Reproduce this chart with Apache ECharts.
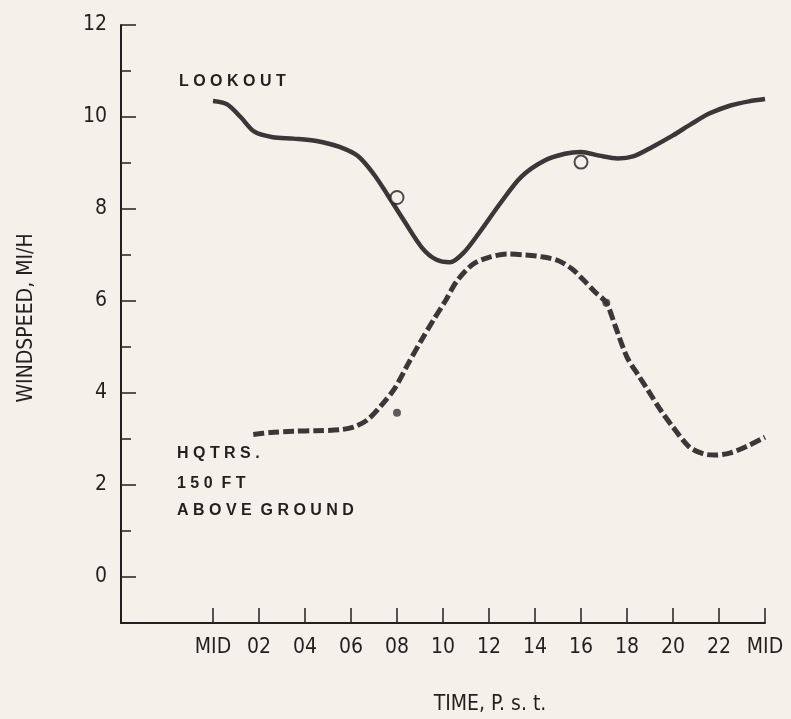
<!DOCTYPE html>
<html>
<head>
<meta charset="utf-8">
<script src="https://cdn.jsdelivr.net/npm/echarts@6/dist/echarts.min.js"></script>
<style>
html,body{margin:0;padding:0;background:#f4f1eb;}
#chart{width:791px;height:719px;}
</style>
</head>
<body>
<div id="chart"></div>
<script>
// Hours past midnight (P.s.t.) and windspeed (mi/h)
const lookoutHours = [0,0.6,1.2,1.8,2.6,3.5,4.5,5.5,6.3,7.0,7.6,8.3,9.1,9.7,10.3,10.9,11.6,12.5,13.4,14.4,15.3,16.0,16.8,17.6,18.3,19.1,20.0,20.8,21.6,22.5,23.3,24];
const lookoutSpeed = [10.35,10.28,10.0,9.68,9.56,9.53,9.48,9.35,9.15,8.75,8.3,7.75,7.15,6.9,6.84,7.05,7.5,8.13,8.7,9.05,9.2,9.24,9.16,9.1,9.15,9.35,9.6,9.85,10.08,10.25,10.34,10.39];
const hqtrsHours = [1.75,2.5,3.5,4.5,5.5,6.1,6.7,7.3,7.9,8.5,9.1,9.6,10.1,10.6,11.3,12.0,12.8,13.6,14.3,15.0,15.6,16.1,16.6,17.1,17.5,18.0,18.5,18.9,19.5,20.0,20.7,21.3,21.8,22.5,23.2,24];
const hqtrsSpeed = [3.1,3.14,3.17,3.18,3.2,3.26,3.41,3.72,4.1,4.65,5.18,5.6,6.0,6.43,6.8,6.95,7.02,7.0,6.96,6.88,6.7,6.46,6.2,5.96,5.44,4.78,4.38,4.07,3.6,3.26,2.83,2.68,2.65,2.7,2.84,3.04];
const lookoutObsHours = [8,16];
const lookoutObsSpeed = [8.25,9.02];
const hqtrsObsHours = [8,17.1];
const hqtrsObsSpeed = [3.57,5.96];
const xTickValues = [0,2,4,6,8,10,12,14,16,18,20,22,24];
const xTickLabels = ['MID','02','04','06','08','10','12','14','16','18','20','22','MID'];
const yMajorTicks = [0,2,4,6,8,10,12];
const yMinorTicks = [1,3,5,7,9,11];

const ink = '#231f20';
const lineInk = '#3b3637';
const bg = '#f4f1eb';
const narrow = '"Liberation Sans Narrow","DejaVu Sans Condensed",sans-serif';
const bold = '"Liberation Sans",Arial,sans-serif';

const zip = (a,b) => a.map((v,i) => [v,b[i]]);

const chart = echarts.init(document.getElementById('chart'), null, {renderer:'canvas'});
chart.setOption({
  backgroundColor: bg,
  animation: false,
  grid: {left:121, right:26, top:25, bottom:96, containLabel:false},
  xAxis: {
    type:'value', min:-4, max:24,
    splitLine:{show:false},
    axisLine:{show:true, onZero:false, lineStyle:{color:ink, width:2}},
    axisTick:{show:true, inside:true, length:15, customValues:xTickValues, lineStyle:{color:ink, width:1.5}},
    axisLabel:{show:true, customValues:xTickValues, margin:14, color:ink, fontFamily:narrow, fontSize:21,
      formatter:(v)=>{const i = xTickValues.indexOf(v); return i>=0 ? xTickLabels[i] : '';}}
  },
  yAxis: [{
    type:'value', min:-1, max:12,
    splitLine:{show:false},
    axisLine:{show:true, onZero:false, lineStyle:{color:ink, width:2}},
    axisTick:{show:true, inside:true, length:15, customValues:yMajorTicks, lineStyle:{color:ink, width:1.5}},
    axisLabel:{show:true, customValues:yMajorTicks, margin:14, color:ink, fontFamily:narrow, fontSize:21}
  },{
    type:'value', min:-1, max:12, position:'left',
    splitLine:{show:false},
    axisLine:{show:false, onZero:false},
    axisTick:{show:true, inside:true, length:10, customValues:yMinorTicks, lineStyle:{color:ink, width:1.5}},
    axisLabel:{show:false}
  }],
  series: [
    {type:'line', data:zip(lookoutHours, lookoutSpeed), smooth:0.3, symbol:'none',
      lineStyle:{color:lineInk, width:4.5, cap:'butt'}},
    {type:'line', data:zip(hqtrsHours, hqtrsSpeed), smooth:0.3, symbol:'none',
      lineStyle:{color:lineInk, width:5, type:[11,4], cap:'butt'}},
    {type:'scatter', data:zip(lookoutObsHours, lookoutObsSpeed), symbol:'circle', symbolSize:13,
      itemStyle:{color:bg, borderColor:ink, borderWidth:2}, z:5},
    {type:'scatter', data:zip(hqtrsObsHours, hqtrsObsSpeed), symbol:'circle', symbolSize:8,
      itemStyle:{color:lineInk}, z:5}
  ],
  graphic: [
    {type:'text', left:179, top:74, style:{text:'L O O K O U T', fill:ink, font:'bold 16px '+bold}},
    {type:'text', left:177, top:446, style:{text:'H Q T R S .', fill:ink, font:'bold 16px '+bold}},
    {type:'text', left:177, top:476, style:{text:'1 5 0  F T', fill:ink, font:'bold 16px '+bold}},
    {type:'text', left:177, top:503, style:{text:'A B O V E  G R O U N D', fill:ink, font:'bold 16px '+bold}},
    {type:'text', x:490, y:705, style:{text:'TIME, P. s. t.', fill:ink, font:'21px '+narrow, align:'center', verticalAlign:'middle'}},
    {type:'text', x:27, y:318, rotation:Math.PI/2, style:{text:'WINDSPEED, MI/H', fill:ink, font:'21px '+narrow, align:'center', verticalAlign:'middle'}}
  ]
});
</script>
</body>
</html>
